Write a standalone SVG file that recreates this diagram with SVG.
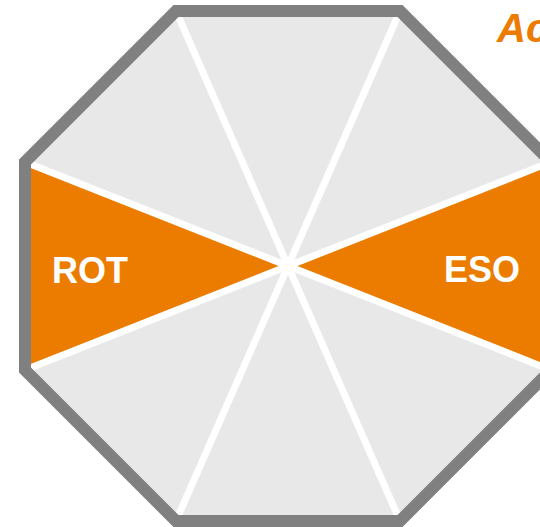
<svg xmlns="http://www.w3.org/2000/svg" width="540" height="527" viewBox="0 0 540 527">
<style>
.sector{fill:#E8E8E8}
.hl{fill:#EC7C00}
.div{stroke:#FFFFFF;stroke-width:7;fill:none}
.frame{fill:none;stroke:#808080;stroke-width:12;stroke-linejoin:miter}
.lbl{font-family:"Liberation Sans",Arial,sans-serif;font-weight:bold;font-size:36px;fill:#FFFFFF}
.title{font-family:"Liberation Sans",Arial,sans-serif;font-weight:bold;font-style:italic;font-size:40px;fill:#EC7C00}
</style>
<rect width="540" height="527" fill="#FFFFFF"/>
<g id="octagon">
<polygon class="sector" points="176,11 400,11 551,162 551,370 400,521 176,521 25,370 25,162"/>
</g>
<g id="sector-rot">
<polygon class="hl" points="288,266 25,162 25,370"/>
<text class="lbl" x="52" y="283">ROT</text>
</g>
<g id="sector-eso">
<polygon class="hl" points="288,266 551,162 551,370"/>
<text class="lbl" x="444" y="282">ESO</text>
</g>
<g id="dividers">
<path class="div" d="M288,266 L176,11 M288,266 L400,11 M288,266 L551,162 M288,266 L551,370 M288,266 L400,521 M288,266 L176,521 M288,266 L25,370 M288,266 L25,162"/>
</g>
<g id="frame">
<polygon class="frame" points="176,11 400,11 551,162 551,370 400,521 176,521 25,370 25,162"/>
</g>
<g id="title">
<text class="title" x="497" y="42">Ac</text>
</g>
</svg>
